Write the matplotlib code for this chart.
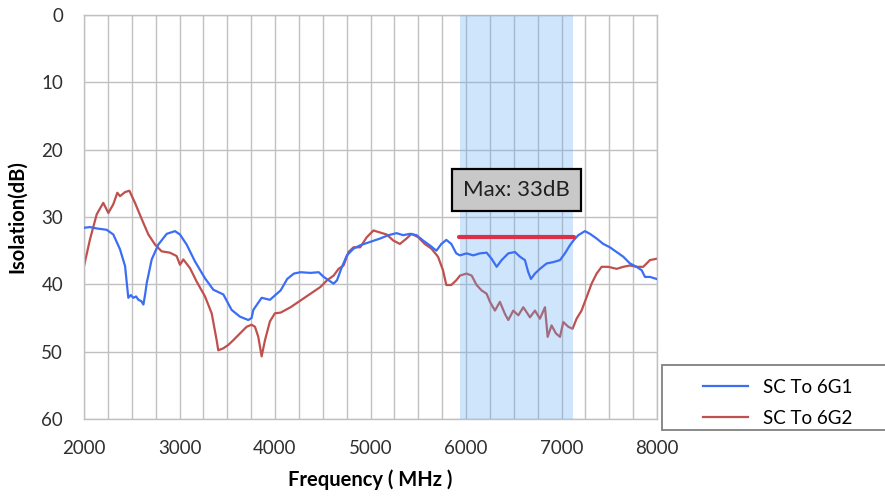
import numpy as np
import matplotlib
matplotlib.use("Agg")
import matplotlib.pyplot as plt
from matplotlib.patches import Rectangle
from matplotlib.ticker import MultipleLocator

plt.rcParams['font.family'] = ['Lato', 'DejaVu Sans']

# SC -> 6G1 isolation, frequency (MHz) vs dB
freq_6g1 = [2000, 2063, 2133, 2237, 2307, 2377, 2430, 2464, 2490, 2517, 2545, 2570, 2600,
            2622, 2640, 2657, 2709, 2778, 2866, 2953, 3005, 3075, 3162, 3267, 3354, 3459,
            3546, 3633, 3720, 3755, 3773, 3860, 3947, 4059, 4128, 4198, 4267, 4371, 4458,
            4510, 4562, 4614, 4649, 4701, 4753, 4822, 4892, 4996, 5100, 5187, 5273, 5343,
            5412, 5482, 5551, 5620, 5690, 5742, 5794, 5846, 5898, 5937, 6006, 6076, 6146,
            6216, 6268, 6321, 6373, 6443, 6513, 6565, 6617, 6652, 6680, 6722, 6774, 6844,
            6914, 6984, 7036, 7088, 7130, 7176, 7245, 7298, 7368, 7437, 7507, 7577, 7647,
            7717, 7786, 7839, 7874, 7926, 7996]
iso_6g1 = [31.6, 31.5, 31.7, 31.9, 32.6, 34.8, 37.3, 42.0, 41.6, 42.0, 41.8, 42.3, 42.5,
           43.0, 41.5, 39.8, 36.3, 34.1, 32.5, 32.1, 32.6, 34.1, 36.6, 39.1, 40.8, 41.5,
           43.8, 44.8, 45.3, 45.0, 43.8, 42.0, 42.3, 40.9, 39.2, 38.4, 38.2, 38.3, 38.2,
           38.9, 39.4, 39.9, 39.4, 37.4, 35.7, 34.7, 34.2, 33.7, 33.2, 32.7, 32.4, 32.7,
           32.5, 32.7, 33.5, 34.2, 35.0, 34.0, 33.4, 34.0, 35.4, 35.7, 35.4, 35.7, 35.4,
           35.3, 36.2, 37.4, 36.4, 35.4, 35.2, 35.9, 36.4, 38.2, 39.2, 38.4, 37.7, 36.9,
           36.7, 36.4, 35.4, 34.2, 33.4, 32.7, 32.1, 32.5, 33.2, 34.0, 34.5, 35.2, 35.9,
           36.9, 37.4, 37.9, 38.9, 38.9, 39.2]

# SC -> 6G2 isolation
freq_6g2 = [2000, 2063, 2133, 2202, 2255, 2307, 2349, 2377, 2430, 2475, 2534, 2604, 2674,
            2744, 2813, 2900, 2970, 3005, 3040, 3110, 3180, 3267, 3337, 3389, 3406, 3459,
            3511, 3563, 3633, 3703, 3755, 3790, 3825, 3860, 3895, 3947, 3999, 4059, 4163,
            4267, 4371, 4475, 4545, 4614, 4666, 4718, 4770, 4822, 4892, 4961, 5031, 5100,
            5169, 5239, 5308, 5377, 5430, 5499, 5568, 5638, 5707, 5759, 5794, 5846, 5898,
            5937, 6006, 6059, 6111, 6163, 6216, 6251, 6303, 6355, 6408, 6443, 6495, 6548,
            6600, 6670, 6722, 6774, 6827, 6855, 6896, 6942, 6984, 7019, 7071, 7116, 7158,
            7210, 7263, 7315, 7368, 7420, 7490, 7577, 7647, 7717, 7786, 7856, 7926, 7996]
iso_6g2 = [37.3, 33.3, 29.6, 27.9, 29.4, 28.1, 26.4, 26.9, 26.3, 26.1, 27.9, 30.3, 32.6,
           34.1, 35.1, 35.3, 35.8, 37.1, 36.3, 37.6, 39.6, 41.8, 44.3, 48.3, 49.8, 49.5,
           49.0, 48.3, 47.3, 46.3, 46.0, 46.3, 47.8, 50.7, 48.3, 45.5, 44.3, 44.2, 43.4,
           42.4, 41.4, 40.4, 39.4, 38.7, 37.7, 37.2, 35.2, 34.5, 34.5, 33.0, 32.0, 32.3,
           32.6, 33.5, 34.0, 33.2, 32.5, 33.0, 34.0, 34.7, 35.9, 37.9, 40.1, 40.1, 39.4,
           38.7, 38.4, 38.7, 40.1, 40.9, 41.4, 42.6, 43.9, 42.6, 44.4, 45.3, 43.9, 44.6,
           43.4, 44.9, 43.9, 45.1, 43.4, 47.8, 46.1, 47.3, 47.8, 45.6, 46.3, 46.6, 45.1,
           43.9, 41.9, 39.9, 38.4, 37.4, 37.4, 37.7, 37.4, 37.2, 37.4, 37.4, 36.4, 36.2]

band = (5940, 7120)          # highlighted band
max_line = (5930, 7130, 33)  # start, end, level (dB)
max_label = "Max: 33dB"

fig = plt.figure(figsize=(8.85, 4.96), dpi=100)
ax = fig.add_axes([84 / 885, 1 - 419 / 496, 573 / 885, 404 / 496])

grid_c = '#c0c0c0'
ax.set_xlim(2000, 8000)
ax.set_ylim(60, 0)
ax.xaxis.set_major_locator(MultipleLocator(1000))
ax.xaxis.set_minor_locator(MultipleLocator(250))
ax.yaxis.set_major_locator(MultipleLocator(10))
ax.grid(True, which='both', axis='x', color=grid_c, lw=1.0, zorder=0)
ax.grid(True, which='major', axis='y', color=grid_c, lw=1.0, zorder=0)
ax.set_axisbelow(True)
ax.tick_params(which='both', length=0, labelsize=13.5, colors='#303030', pad=15)
for s in ax.spines.values():
    s.set_color(grid_c)
    s.set_linewidth(1.0)

ax.plot(freq_6g2, iso_6g2, color='#c0504d', lw=1.6, zorder=2)
ax.axvspan(band[0], band[1], color='#62acf2', alpha=0.3, lw=0, zorder=3)
ax.plot(freq_6g1, iso_6g1, color='#3b6ef5', lw=1.6, zorder=4)
ax.plot(max_line[:2], [max_line[2]] * 2, color='#dc3049', lw=3, zorder=5,
        solid_capstyle='round')

ax.text(6530, 26.0, max_label, ha='center', va='center', fontsize=16, color='#202020',
        zorder=6, bbox=dict(boxstyle='square,pad=0.5', fc='#c8c8c8', ec='black', lw=1.6))

ax.set_xlabel('Frequency ( MHz )', fontsize=14.5, fontweight='bold', labelpad=9)
ax.set_ylabel('Isolation(dB)', fontsize=14.5, fontweight='bold', labelpad=10)

# legend sits in its own box hanging off the right edge
fig.patches.append(Rectangle((662 / 885, 1 - 430 / 496), 240 / 885, 65 / 496,
                             transform=fig.transFigure, fc='white', ec='#808080', lw=1.3))
h1, = ax.plot([], [], color='#3b6ef5', lw=1.6, label='SC To 6G1')
h2, = ax.plot([], [], color='#c0504d', lw=1.6, label='SC To 6G2')
fig.legend(handles=[h1, h2], loc='upper left', bbox_to_anchor=(686 / 885, 1 - 362 / 496),
           frameon=False, fontsize=13.5, handlelength=2.4, labelspacing=0.75)

fig.savefig('out.png', dpi=100)
